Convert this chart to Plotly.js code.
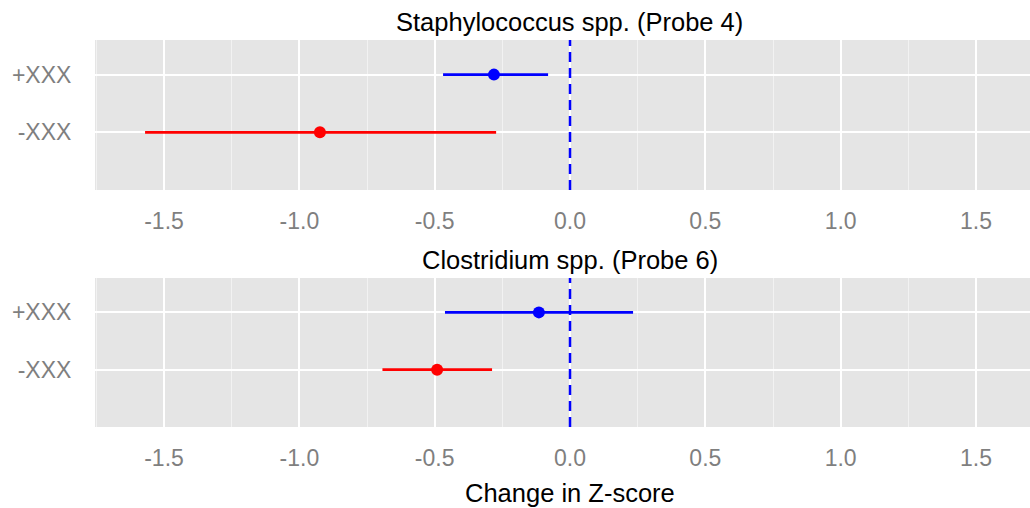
<!DOCTYPE html>
<html>
<head>
<meta charset="utf-8">
<script src="https://cdn.plot.ly/plotly-3.0.1.min.js"></script>
<style>html,body{margin:0;padding:0;background:#fff;}#chart{width:1030px;height:508px;}</style>
</head>
<body>
<div id="chart"></div>
<script>
// Data
const groups = ["-XXX", "+XXX"];
const groupColors = ["#ff0000", "#0000ff"];
const panelTitles = ["Staphylococcus spp. (Probe 4)", "Clostridium spp. (Probe 6)"];
const staphEst = [-0.924, -0.281];
const staphLow = [-1.570, -0.469];
const staphHigh = [-0.273, -0.081];
const clostEst = [-0.491, -0.115];
const clostLow = [-0.693, -0.462];
const clostHigh = [-0.288, 0.233];
const xTickVals = [-1.5, -1.0, -0.5, 0.0, 0.5, 1.0, 1.5];
const xTickText = ["-1.5", "-1.0", "-0.5", "0.0", "0.5", "1.0", "1.5"];
const xTitle = "Change in Z-score";

const panels = [
  {est: staphEst, lo: staphLow, hi: staphHigh, xa: 'x', ya: 'y'},
  {est: clostEst, lo: clostLow, hi: clostHigh, xa: 'x2', ya: 'y2'}
];

const traces = [];
panels.forEach(p => {
  groups.forEach((g, i) => {
    traces.push({
      type: 'scatter', mode: 'markers',
      x: [p.est[i]], y: [i + 1],
      xaxis: p.xa, yaxis: p.ya,
      marker: {color: groupColors[i], size: 12},
      error_x: {type: 'data', symmetric: false,
        array: [p.hi[i] - p.est[i]], arrayminus: [p.est[i] - p.lo[i]],
        width: 0, thickness: 2.7, color: groupColors[i]},
      showlegend: false, hoverinfo: 'x'
    });
  });
});

const font = {family: 'Liberation Sans, Arial, sans-serif'};
const tickSize = 23;
const titleSize = 25.5;
const titleX = 0.508;
const xRange = [-1.755, 1.6995];
function xax(anchor) {
  return {
    range: xRange, anchor: anchor,
    tickvals: xTickVals, ticktext: xTickText,
    showgrid: true, gridcolor: '#ffffff', gridwidth: 2,
    minor: {dtick: 0.25, tick0: -1.25, showgrid: true, gridcolor: '#f2f2f2', gridwidth: 1},
    zeroline: false, showline: false,
    ticks: 'outside', ticklen: 10, tickcolor: 'rgba(0,0,0,0)',
    tickfont: {family: font.family, size: tickSize, color: '#7f7f7f'},
    fixedrange: true
  };
}
function yax(anchor, domain) {
  return {
    domain: domain, anchor: anchor, range: [0, 2.6],
    tickvals: [1, 2], ticktext: groups,
    showgrid: true, gridcolor: '#ffffff', gridwidth: 2,
    zeroline: false, showline: false,
    ticks: 'outside', ticklen: 18, tickcolor: 'rgba(0,0,0,0)',
    tickfont: {family: font.family, size: tickSize, color: '#7f7f7f'},
    fixedrange: true
  };
}

const layout = {
  width: 1030, height: 508,
  margin: {l: 95, r: 0, t: 0, b: 0},
  paper_bgcolor: '#ffffff', plot_bgcolor: '#e5e5e5',
  font: font,
  showlegend: false,
  xaxis: xax('y'),
  yaxis: yax('x', [1 - 190/508, 1 - 40/508]),
  xaxis2: xax('y2'),
  yaxis2: yax('x2', [1 - 427/508, 1 - 278/508]),
  shapes: [
    {type: 'line', xref: 'x', yref: 'y domain', x0: 0, x1: 0, y0: 0, y1: 1,
     line: {color: '#0000ff', width: 2.5, dash: '10px,6px'}},
    {type: 'line', xref: 'x2', yref: 'y2 domain', x0: 0, x1: 0, y0: 0, y1: 1,
     line: {color: '#0000ff', width: 2.5, dash: '10px,6px'}}
  ],
  annotations: [
    {text: panelTitles[0], xref: 'paper', yref: 'y domain', x: titleX, y: 1, yshift: 2,
     xanchor: 'center', yanchor: 'bottom', showarrow: false,
     font: {family: font.family, size: titleSize, color: '#000000'}},
    {text: panelTitles[1], xref: 'paper', yref: 'y2 domain', x: titleX, y: 1, yshift: 2,
     xanchor: 'center', yanchor: 'bottom', showarrow: false,
     font: {family: font.family, size: titleSize, color: '#000000'}},
    {text: xTitle, xref: 'paper', yref: 'paper', x: titleX, y: 0, yshift: -1,
     xanchor: 'center', yanchor: 'bottom', showarrow: false,
     font: {family: font.family, size: titleSize, color: '#000000'}}
  ]
};

Plotly.newPlot('chart', traces, layout, {displayModeBar: false, staticPlot: true});
</script>
</body>
</html>
